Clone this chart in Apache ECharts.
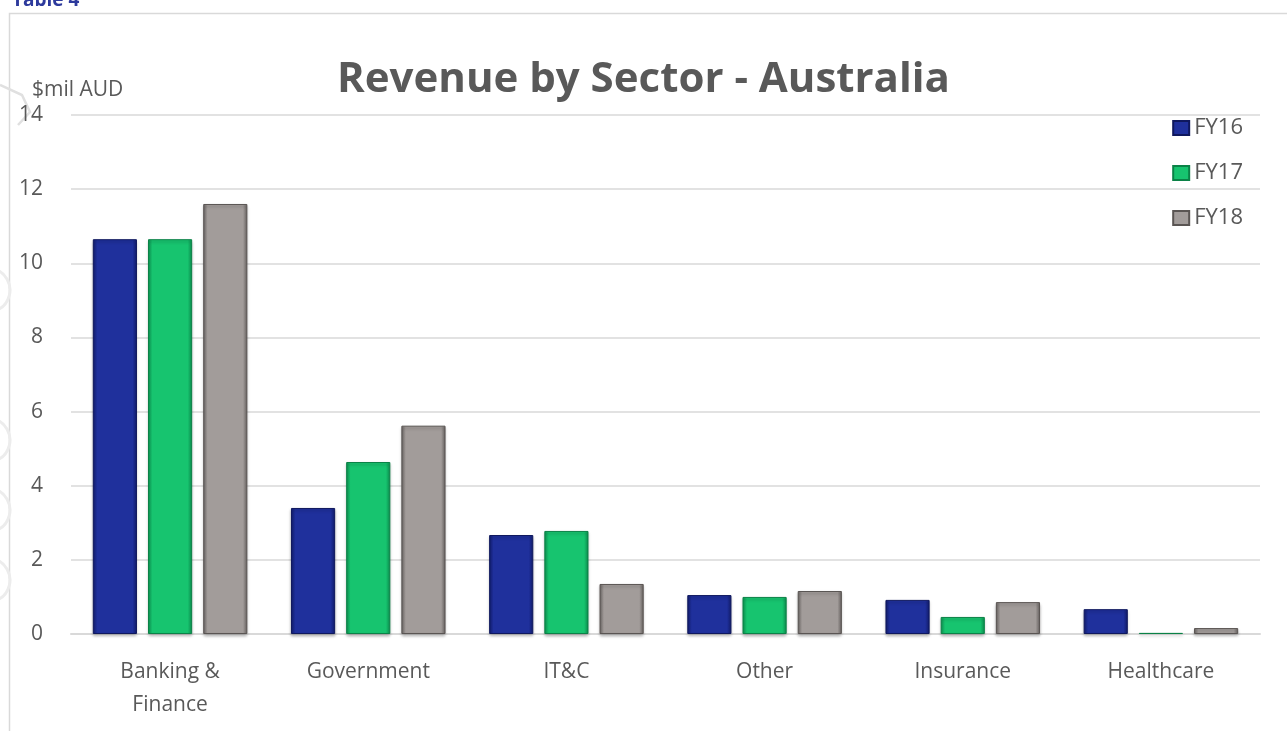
<!DOCTYPE html>
<html><head><meta charset="utf-8">
<script src="https://cdn.jsdelivr.net/npm/echarts@6/dist/echarts.min.js"></script>
<style>html,body{margin:0;padding:0;background:#fff}#c{width:1287px;height:731px}</style>
</head><body><div id="c"></div>
<script>
const categories = ['Banking &\nFinance', 'Government', 'IT&C', 'Other', 'Insurance', 'Healthcare'];
const fy16 = [10.65, 3.40, 2.67, 1.05, 0.92, 0.67];
const fy17 = [10.65, 4.64, 2.78, 1.00, 0.46, 0.03];
const fy18 = [11.60, 5.62, 1.35, 1.16, 0.86, 0.16];
const seriesNames = ['FY16', 'FY17', 'FY18'];

function grad(edge, mid) {
  return new echarts.graphic.LinearGradient(0, 0, 1, 0, [
    {offset: 0, color: edge}, {offset: 0.1, color: mid},
    {offset: 0.9, color: mid}, {offset: 1, color: edge}
  ]);
}
const styles = [
  {color: grad('#121c6e', '#1f309c'), borderColor: '#0f185e'},
  {color: grad('#0c9150', '#17c46f'), borderColor: '#0b8247'},
  {color: grad('#6a6563', '#a29c9a'), borderColor: '#5a5553'}
];
const datas = [fy16, fy17, fy18];

const chart = echarts.init(document.getElementById('c'));
chart.setOption({
  animation: false,
  title: {
    text: 'Revenue by Sector - Australia', left: 'center', top: 54,
    textStyle: {fontFamily: 'Open Sans', fontWeight: 'bold', fontSize: 42, color: '#595959'}
  },
  legend: {
    orient: 'vertical', right: 39, top: 112, itemGap: 23, itemWidth: 16, itemHeight: 14,
    icon: 'rect',
    textStyle: {fontFamily: 'Open Sans', fontSize: 22, color: '#595959'},
    data: seriesNames
  },
  graphic: [
    {type: 'rect', shape: {x: 9.5, y: 13.5, width: 1300, height: 800}, style: {fill: 'none', stroke: '#d9d9d9', lineWidth: 1.5}, silent: true},
    {type: 'text', left: 12, top: -9, style: {text: 'Table 4', fill: '#2d3a9c', font: 'bold 19px "Open Sans"'}},
    {type: 'text', left: 32, top: 80, style: {text: '$mil AUD', fill: '#595959', font: '21px "Open Sans"'}},
    {type: 'arc', shape: {cx: -12, cy: 440, r: 22, startAngle: -1.3, endAngle: 1.3}, style: {stroke: '#ececec', lineWidth: 3, fill: 'none'}},
    {type: 'arc', shape: {cx: -12, cy: 510, r: 22, startAngle: -1.3, endAngle: 1.3}, style: {stroke: '#ececec', lineWidth: 3, fill: 'none'}},
    {type: 'arc', shape: {cx: -12, cy: 580, r: 22, startAngle: -1.3, endAngle: 1.3}, style: {stroke: '#ececec', lineWidth: 3, fill: 'none'}},
    {type: 'arc', shape: {cx: -12, cy: 290, r: 22, startAngle: -1.3, endAngle: 1.3}, style: {stroke: '#ececec', lineWidth: 3, fill: 'none'}},
    {type: 'polyline', shape: {points: [[0, 85], [22, 95], [30, 112], [18, 125]]}, style: {stroke: '#e0e0e0', lineWidth: 2.5, fill: 'none'}}
  ],
  grid: {left: 71, right: 27, top: 115, bottom: 97, containLabel: false},
  xAxis: {
    type: 'category', data: categories,
    axisLine: {lineStyle: {color: '#d9d9d9', width: 2}},
    axisTick: {show: false},
    axisLabel: {fontFamily: 'Open Sans', fontSize: 21, color: '#595959', margin: 22, lineHeight: 33}
  },
  yAxis: {
    type: 'value', min: 0, max: 14, interval: 2,
    axisLine: {show: false}, axisTick: {show: false},
    splitLine: {lineStyle: {color: '#d9d9d9', width: 1.5}},
    axisLabel: {fontFamily: 'Open Sans', fontSize: 21, color: '#595959', margin: 28}
  },
  series: seriesNames.map((n, i) => ({
    name: n, type: 'bar', data: datas[i],
    barGap: '25%', barCategoryGap: '22%',
    itemStyle: {color: styles[i].color, borderColor: styles[i].borderColor, borderWidth: 1,
      shadowColor: 'rgba(0,0,0,0.25)', shadowBlur: 3, shadowOffsetY: 2}
  }))
});
</script></body></html>
